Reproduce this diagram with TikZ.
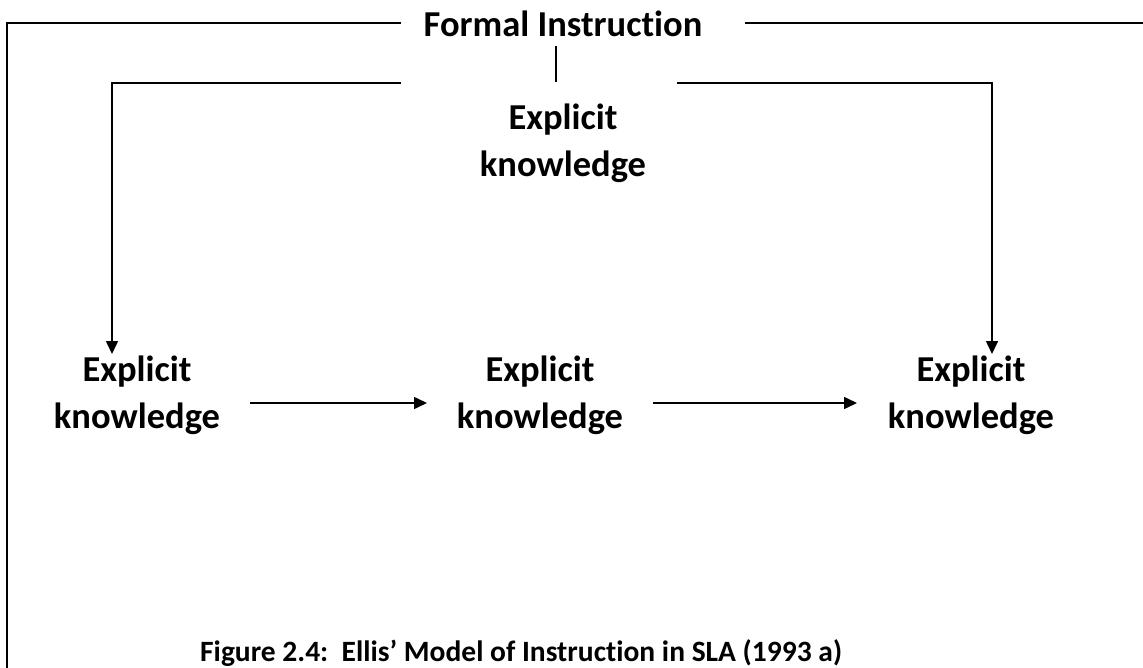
\documentclass[tikz,border=0pt]{standalone}
\usepackage{fontspec}
\setmainfont[Ligatures={NoCommon}]{Carlito}
\usetikzlibrary{arrows.meta}
\begin{document}
\begin{tikzpicture}[x=1pt,y=-1pt,
  lbl/.style={font=\fontsize{36.5}{47}\selectfont\bfseries, align=center, inner sep=0pt},
  frame/.style={line width=2pt},
  link/.style={line width=1.6pt},
  arr/.style={line width=1.6pt, -{Triangle[length=13pt,width=12pt]}}]
  \useasboundingbox (0,0) rectangle (1143,668);
  % labels
  \node[lbl] (fi) at (563,24) {Formal Instruction};
  \node[lbl] (top) at (563,143) {Explicit\\knowledge};
  \node[lbl] (left) at (137,395) {Explicit\\knowledge};
  \node[lbl] (mid) at (540,395) {Explicit\\knowledge};
  \node[lbl] (right) at (971,395) {Explicit\\knowledge};
  \node[font=\fontsize{29.5}{36}\selectfont\bfseries, anchor=base west, inner sep=0pt] (cap) at (200,661)
    {Figure 2.4:\ \ Ellis’ Model of Instruction in SLA (1993 a)};
  % outer frame
  \coordinate (fl) at (401,23);
  \coordinate (fr) at (745,23);
  \coordinate (tl) at (7,23);
  \coordinate (tr) at (1143,23);
  \coordinate (bl) at (7,668);
  \draw[frame] (fl) -- (tl) -- (bl);
  \draw[frame] (fr) -- (tr);
  % stem below the heading
  \coordinate (s1) at (556,46);
  \coordinate (s2) at (556,82);
  \draw[link] (s1) -- (s2);
  % branches to the outer nodes
  \coordinate (bla) at (401,83);
  \coordinate (bra) at (677,83);
  \draw[arr] (bla) -- (112,83) -- (112,354);
  \draw[arr] (bra) -- (992,83) -- (992,354);
  % chain of the lower nodes
  \draw[arr] (250,403) -- (427,403);
  \draw[arr] (653,403) -- (857,403);
\end{tikzpicture}
\end{document}
